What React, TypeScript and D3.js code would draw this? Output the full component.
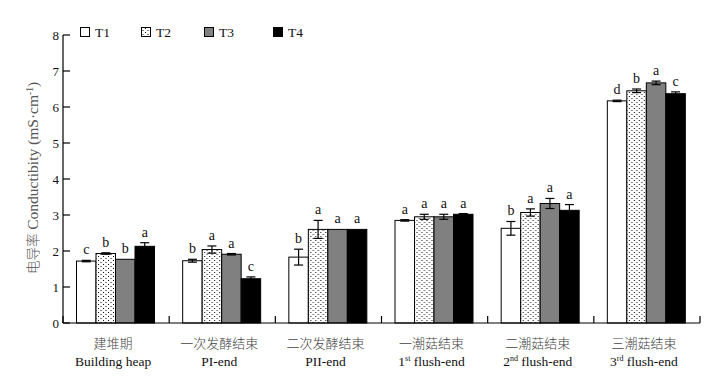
import React from 'react';
import * as d3 from 'd3';

const categoriesZh = ['建堆期', '一次发酵结束', '二次发酵结束', '一潮菇结束', '二潮菇结束', '三潮菇结束'];
const categoriesEn = [
  { base: 'Building heap', sup: '', rest: '' },
  { base: 'PI-end', sup: '', rest: '' },
  { base: 'PII-end', sup: '', rest: '' },
  { base: '1', sup: 'st', rest: ' flush-end' },
  { base: '2', sup: 'nd', rest: ' flush-end' },
  { base: '3', sup: 'rd', rest: ' flush-end' },
];
const series = ['T1', 'T2', 'T3', 'T4'];

const t1Values = [1.72, 1.73, 1.83, 2.85, 2.63, 6.17];
const t2Values = [1.93, 2.04, 2.6, 2.95, 3.07, 6.45];
const t3Values = [1.77, 1.91, 2.6, 2.95, 3.32, 6.67];
const t4Values = [2.13, 1.23, 2.6, 3.02, 3.13, 6.37];

const t1Errors = [0.02, 0.04, 0.22, 0.02, 0.19, 0.02];
const t2Errors = [0.02, 0.1, 0.25, 0.07, 0.1, 0.05];
const t3Errors = [0.0, 0.02, 0.0, 0.07, 0.14, 0.05];
const t4Errors = [0.1, 0.05, 0.0, 0.02, 0.16, 0.05];

const t1Letters = ['c', 'b', 'b', 'a', 'b', 'd'];
const t2Letters = ['b', 'a', 'a', 'a', 'a', 'b'];
const t3Letters = ['b', 'a', 'a', 'a', 'a', 'a'];
const t4Letters = ['a', 'c', 'a', 'a', 'a', 'c'];

const yTicks = [0, 1, 2, 3, 4, 5, 6, 7, 8];

const values = [t1Values, t2Values, t3Values, t4Values];
const errors = [t1Errors, t2Errors, t3Errors, t4Errors];
const letters = [t1Letters, t2Letters, t3Letters, t4Letters];
const fills = ['#ffffff', 'url(#dots)', '#808080', '#000000'];

const W = 710;
const H = 388;
const margin = { left: 63, right: 10, top: 35, bottom: 65 };
const serif = '"Liberation Serif", "Times New Roman", serif';
const cjk = '"Noto Sans CJK SC", sans-serif';

export default function App() {
  const x0 = d3.scaleBand<string>().domain(categoriesZh).range([margin.left, 700]).paddingInner(0).paddingOuter(0);
  const x1 = d3.scaleBand<string>().domain(series).range([13.5, 91.5]).padding(0);
  const y = d3.scaleLinear().domain([0, 8]).range([323, 35]);
  const capHalf = 4.5;

  const boundaries = d3.range(categoriesZh.length + 1).map(i => margin.left + i * x0.step());

  const legendX = [80, 141, 204, 273];

  return (
    <svg width={W} height={H} style={{ position: 'absolute', left: 0, top: 0, background: '#fff' }}>
      <defs>
        <pattern id="dots" width={5} height={4} patternUnits="userSpaceOnUse">
          <rect width={5} height={4} fill="#fff" />
          <rect x={0} y={0} width={1} height={1} fill="#111" />
          <rect x={2.5} y={2} width={1} height={1} fill="#111" />
        </pattern>
      </defs>

      {/* bars */}
      {categoriesZh.map((c, ci) => (
        <g key={c} transform={`translate(${x0(c)},0)`}>
          {series.map((s, si) => {
            const v = values[si][ci];
            const e = errors[si][ci];
            const bx = x1(s) || 0;
            const bw = x1.bandwidth();
            const cx = bx + bw / 2;
            const top = y(v + e);
            return (
              <g key={s}>
                <rect x={bx} y={y(v)} width={bw} height={y(0) - y(v)} fill={fills[si]} stroke="#000" strokeWidth={1} />
                {e > 0 && (
                  <g stroke="#000" strokeWidth={1.2}>
                    <line x1={cx} x2={cx} y1={y(v - e)} y2={y(v + e)} />
                    <line x1={cx - capHalf} x2={cx + capHalf} y1={y(v + e)} y2={y(v + e)} />
                    <line x1={cx - capHalf} x2={cx + capHalf} y1={y(v - e)} y2={y(v - e)} />
                  </g>
                )}
                <text x={cx} y={top - 6} textAnchor="middle" fontFamily={serif} fontSize={14} fill="#111">
                  {letters[si][ci]}
                </text>
              </g>
            );
          })}
        </g>
      ))}

      {/* y axis */}
      <line x1={margin.left} x2={margin.left} y1={y(8)} y2={y(0)} stroke="#000" strokeWidth={1.2} />
      {yTicks.map(t => (
        <g key={t}>
          <line x1={margin.left} x2={margin.left + 7} y1={y(t)} y2={y(t)} stroke="#000" strokeWidth={1.2} />
          <text x={59} y={y(t) + 4.5} textAnchor="end" fontFamily={serif} fontSize={13} fill="#111">
            {t}
          </text>
        </g>
      ))}

      {/* x axis */}
      <line x1={margin.left} x2={700} y1={y(0)} y2={y(0)} stroke="#000" strokeWidth={1.2} />
      {boundaries.map((b, i) => (
        <line key={i} x1={b} x2={b} y1={y(0)} y2={y(0) - 7} stroke="#000" strokeWidth={1.2} />
      ))}

      {/* x labels */}
      {categoriesZh.map((c, ci) => {
        const cx = (x0(c) || 0) + x0.bandwidth() / 2 - 3;
        const en = categoriesEn[ci];
        return (
          <g key={c}>
            <text x={cx} y={348} textAnchor="middle" fontFamily={cjk} fontWeight={300} fontSize={13} fill="#444">
              {c}
            </text>
            <text x={cx} y={366} textAnchor="middle" fontFamily={serif} fontSize={13.5} fill="#111">
              {en.base}
              {en.sup && (
                <tspan fontSize={8} dy={-5}>
                  {en.sup}
                </tspan>
              )}
              {en.rest && <tspan dy={5}>{en.rest}</tspan>}
            </text>
          </g>
        );
      })}

      {/* y label */}
      <text
        transform={`translate(38,178) rotate(-90)`}
        textAnchor="middle"
        fontFamily={serif}
        fontSize={15.5}
        fill="#555"
      >
        <tspan fontFamily={cjk} fontWeight={300} fontSize={13.5}>电导率</tspan>
        <tspan> Conductibity (mS·cm</tspan>
        <tspan fontSize={9.5} dy={-5}>-1</tspan>
        <tspan dy={5}>)</tspan>
      </text>

      {/* legend */}
      {series.map((s, si) => (
        <g key={s}>
          <rect x={legendX[si] + 0.5} y={27.5} width={9} height={9} fill={fills[si]} stroke="#000" strokeWidth={1} />
          <text x={legendX[si] + 15} y={37} fontFamily={serif} fontSize={13.5} fill="#111">
            {s}
          </text>
        </g>
      ))}
    </svg>
  );
}
